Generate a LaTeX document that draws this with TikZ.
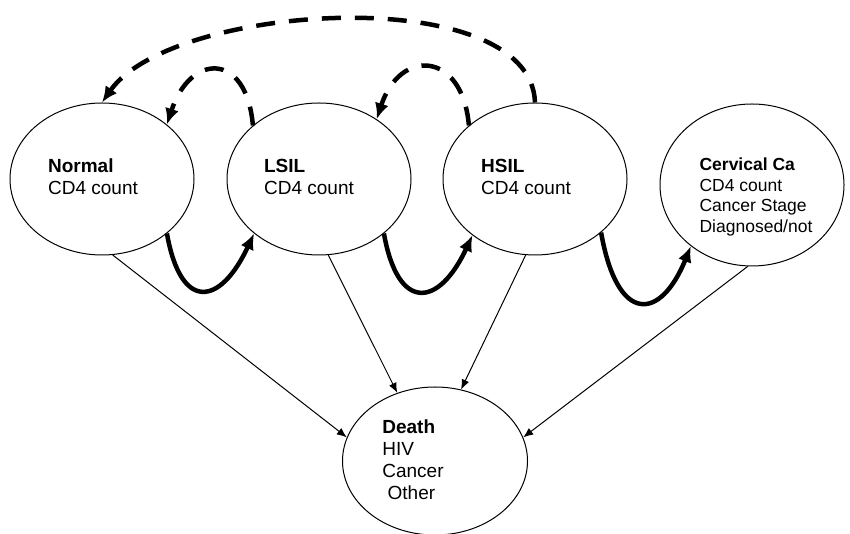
\documentclass[tikz,border=0pt]{standalone}
\usepackage{fontspec}
\setmainfont{Liberation Sans}
\usetikzlibrary{arrows.meta,shapes.geometric}

\begin{document}
\begin{tikzpicture}[x=1pt,y=1pt,
    state/.style={draw,ellipse,line width=1pt,minimum width=184pt,minimum height=152pt,inner sep=0pt},
    txt/.style={align=left,inner sep=0pt,font=\fontsize{19}{22}\selectfont},
    die/.style={-{Latex[length=10pt,width=8pt]},line width=1pt},
    prog/.style={-{Latex[length=16pt,width=14pt]},line width=4.5pt},
    regr/.style={prog,dash pattern=on 19pt off 14pt}]
  \useasboundingbox (0,0) rectangle (850,534);
  % health states
  \node[state] (normal) at (102,355) {};
  \node[state] (lsil) at (319,355) {};
  \node[state] (hsil) at (535,355) {};
  \node[state,minimum height=162pt] (cervical) at (752,349) {};
  \node[state,minimum width=185pt,minimum height=148pt] (death) at (435,73) {};
  \node[txt] (normaltxt) at (93,357) {\textbf{Normal}\\CD4 count};
  \node[txt] (lsiltxt) at (309,357) {\textbf{LSIL}\\CD4 count};
  \node[txt] (hsiltxt) at (526,357) {\textbf{HSIL}\\CD4 count};
  \node[txt,font=\fontsize{17.5}{20.5}\selectfont] (cervicaltxt) at (756,337)
    {\textbf{Cervical Ca}\\CD4 count\\Cancer Stage\\Diagnosed/not};
  \node[txt] (deathtxt) at (413,74) {\textbf{Death}\\HIV\\Cancer\\~Other};
  % progression
  \draw[prog] (normal.-40) .. controls +(-80:80) and +(-115:80) .. (lsil.-140);
  \draw[prog] (lsil.-40) .. controls +(-80:80) and +(-115:80) .. (hsil.-138);
  \draw[prog] (hsil.-39) .. controls +(-80:95) and +(-112:80) .. (cervical.-135);
  % regression
  \draw[regr] (lsil.141) .. controls +(95:75) and +(72:75) .. (normal.40);
  \draw[regr] (hsil.141) .. controls +(95:75) and +(72:75) .. (lsil.46);
  \draw[regr] (hsil.90) .. controls +(92:122) and +(55:122) .. (normal.90);
  % deaths
  \draw[die] (normal.-82) -- (death.165);
  \draw[die] (lsil.-83) -- (death.119);
  \draw[die] (hsil.-97) -- (death.70);
  \draw[die] (cervical.-93) -- (death.15);
\end{tikzpicture}
\end{document}
